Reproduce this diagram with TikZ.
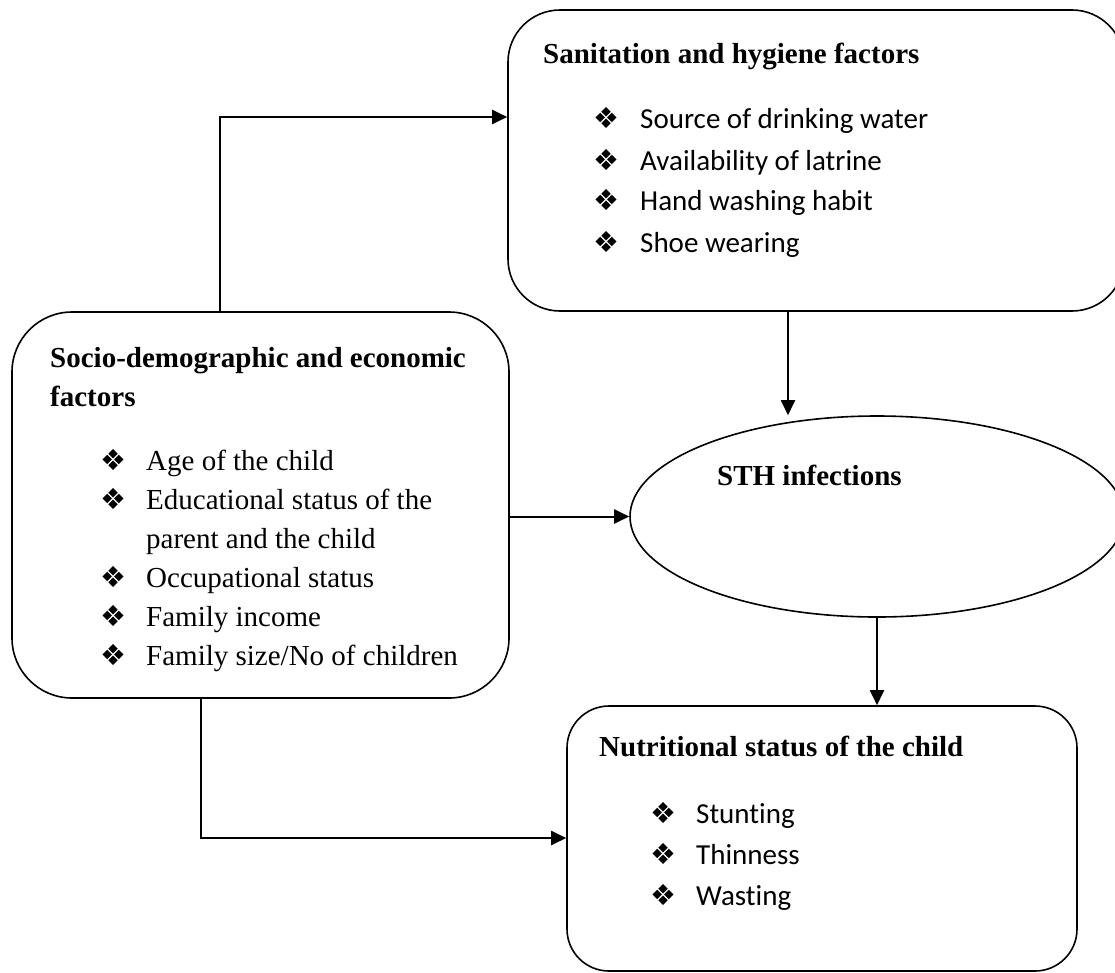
\documentclass[tikz,border=0pt]{standalone}
\usepackage{fontspec}
\setmainfont{Liberation Serif}
\newfontfamily\calfont[Ligatures=NoCommon]{Carlito}
\newfontfamily\symfont{DejaVu Sans}
\usetikzlibrary{arrows.meta,shapes.geometric,calc}
\begin{document}
\begin{tikzpicture}[x=1pt,y=-1pt,
  box/.style={draw,line width=1.6pt,rectangle,inner sep=0},
  conn/.style={line width=2pt,-{Triangle[length=15pt,width=14pt]}},
  ttl/.style={anchor=base west,inner sep=0,font=\fontsize{29}{35}\selectfont\bfseries},
  itm/.style={anchor=base west,inner sep=0,font=\fontsize{29}{35}\selectfont},
  citm/.style={anchor=base west,inner sep=0,font=\fontsize{29}{35}\selectfont\calfont},
  bul/.style={anchor=base west,inner sep=0,font=\fontsize{29}{34}\selectfont\symfont}]
\useasboundingbox (0,0) rectangle (1115,972);

% boxes
\node[box,rounded corners=52pt,minimum width=616pt,minimum height=301pt] (san) at (816,160.5) {};
\node[box,rounded corners=60pt,minimum width=497pt,minimum height=386pt] (soc) at (260.5,505) {};
\node[box,ellipse,minimum width=494pt,minimum height=201pt] (sth) at (877,516.5) {};
\node[box,rounded corners=42pt,minimum width=510pt,minimum height=265pt] (nut) at (822,838.5) {};

% sanitation texts
\node[ttl] (santitle) at (543,63) {Sanitation and hygiene factors};
\node[bul] (sb1) at (593,128) {❖};
\node[citm] (si1) at (640,128) {Source of drinking water};
\node[bul] (sb2) at (593,170) {❖};
\node[citm] (si2) at (640,170) {Availability of latrine};
\node[bul] (sb3) at (593,210.5) {❖};
\node[citm] (si3) at (640,210.5) {Hand washing habit};
\node[bul] (sb4) at (593,252) {❖};
\node[citm] (si4) at (640,252) {Shoe wearing};

% socio texts
\node[ttl] (soctitle1) at (50,367) {Socio-demographic and economic};
\node[ttl] (soctitle2) at (50,406) {factors};
\node[bul] (ob1) at (100,470.5) {❖};
\node[itm] (oi1) at (146,470.5) {Age of the child};
\node[bul] (ob2) at (100,509.5) {❖};
\node[itm] (oi2) at (146,509.5) {Educational status of the};
\node[itm] (oi2b) at (146,548) {parent and the child};
\node[bul] (ob3) at (100,587) {❖};
\node[itm] (oi3) at (146,587) {Occupational status};
\node[bul] (ob4) at (100,626) {❖};
\node[itm] (oi4) at (146,626) {Family income};
\node[bul] (ob5) at (100,665) {❖};
\node[itm] (oi5) at (146,665) {Family size/No of children};

% STH
\node[ttl] (sthtitle) at (717,485) {STH infections};

% nutrition texts
\node[ttl] (nuttitle) at (599,756) {Nutritional status of the child};
\node[bul] (nb1) at (650,823) {❖};
\node[citm] (ni1) at (696,823) {Stunting};
\node[bul] (nb2) at (650,864) {❖};
\node[citm] (ni2) at (696,864) {Thinness};
\node[bul] (nb3) at (650,905) {❖};
\node[citm] (ni3) at (696,905) {Wasting};

% connectors
\coordinate (j1) at (220,117);
\coordinate (j2) at (788,0);
\coordinate (j5) at (201,838);
\draw[conn] (j1 |- soc.north) -- (j1) -- (j1 -| san.west);
\draw[conn] (j2 |- san.south) -- (j2 |- sth.north);
\draw[conn] (soc.east |- sth.west) -- (sth.west);
\draw[conn] (sth.south) -- (sth.south |- nut.north);
\draw[conn] (j5 |- soc.south) -- (j5) -- (j5 -| nut.west);
\end{tikzpicture}
\end{document}
